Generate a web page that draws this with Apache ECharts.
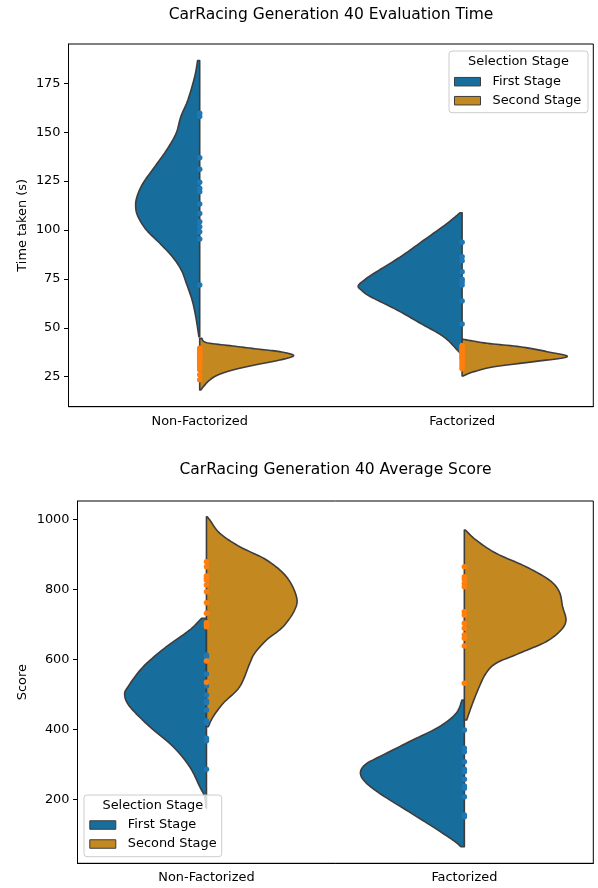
<!DOCTYPE html>
<html><head><meta charset="utf-8">
<script src="https://cdn.jsdelivr.net/npm/echarts@6/dist/echarts.min.js"></script>
<style>html,body{margin:0;padding:0;background:#fff}#c{width:598px;height:888px}</style>
</head><body><div id="c"></div>
<script>
// ---------------- data ----------------
const categories = ['Non-Factorized', 'Factorized'];
const stageNames = ['First Stage', 'Second Stage'];
const timeTicks = [25, 50, 75, 100, 125, 150, 175];
const scoreTicks = [200, 400, 600, 800, 1000];

// violin half profiles: [value, half-width as fraction of the category band], top -> bottom
const timeNFFirst = [[186.6,0.008],[178.4,0.019],[166.5,0.045],[157.9,0.072],[149.4,0.090],[140.9,0.126],[132.4,0.171],[123.9,0.216],[117.0,0.239],[111.9,0.244],[106.8,0.235],[100.0,0.203],[93.2,0.152],[86.3,0.104],[79.5,0.070],[72.8,0.051],[64.2,0.029],[55.7,0.015],[45.4,0.003]];
const timeNFSecond = [[44.6,0.008],[42.4,0.027],[40.7,0.126],[39.0,0.229],[37.8,0.305],[35.8,0.358],[33.5,0.305],[31.0,0.210],[28.4,0.126],[25.9,0.069],[23.3,0.038],[20.7,0.019],[18.2,0.004]];
const timeFFirst = [[108.8,0.008],[103.4,0.057],[94.9,0.145],[86.3,0.235],[77.9,0.335],[74.5,0.372],[71.4,0.396],[68.8,0.380],[65.9,0.349],[59.1,0.248],[52.3,0.159],[45.4,0.070],[38.7,0.019],[36.1,0.001]];
const timeFSecond = [[44.1,0.004],[42.1,0.095],[40.3,0.221],[37.8,0.324],[35.2,0.400],[32.7,0.274],[30.1,0.122],[27.6,0.046],[25.4,0.004]];

const scoreNFFirst = [[717.1,0.019],[683.7,0.065],[636.0,0.155],[578.9,0.245],[521.7,0.304],[498.0,0.317],[464.6,0.297],[407.4,0.220],[350.3,0.129],[293.1,0.065],[236.0,0.026],[207.4,0.007],[175.0,0.002]];
const scoreNFSecond = [[1007.4,0.003],[998.0,0.013],[960.0,0.052],[921.7,0.129],[883.7,0.233],[836.0,0.310],[778.9,0.349],[740.9,0.342],[693.1,0.297],[655.1,0.233],[617.1,0.187],[588.6,0.168],[521.7,0.129],[474.3,0.065],[436.0,0.026],[407.4,0.007]];
const scoreFFirst = [[483.7,0.009],[445.7,0.032],[407.4,0.097],[369.4,0.200],[321.7,0.329],[300.0,0.383],[276.0,0.403],[250.0,0.385],[217.1,0.329],[169.4,0.226],[121.7,0.123],[83.7,0.045],[64.6,0.013]];
const scoreFSecond = [[969.4,0.004],[940.9,0.045],[902.9,0.123],[864.6,0.239],[826.6,0.329],[793.1,0.368],[750.3,0.381],[712.3,0.394],[683.7,0.375],[650.3,0.317],[617.1,0.213],[588.6,0.123],[560.0,0.084],[521.7,0.058],[474.3,0.032],[426.6,0.009]];

// strip points
const timeNFFirstPts = [159.7,158.0,137.0,131.0,124.4,121.3,119.6,113.3,108.5,104.2,101.7,99.1,95.4,71.9];
const timeNFSecondPts = [39.5,38.8,38.0,37.5,37.0,36.3,35.5,35.0,34.2,33.5,32.8,32.0,31.0,30.0,28.5,26.0,23.5];
const timeFFirstPts = [93.7,86.3,84.3,78.7,74.8,73.6,71.9,63.7,51.9];
const timeFSecondPts = [41.0,40.0,39.0,38.5,38.0,37.0,36.5,36.0,35.0,34.5,34.0,33.0,32.0,31.0,30.0,29.0];
const scoreNFFirstPts = [612.3,607.4,558.0,523.7,498.0,480.9,476.0,455.1,424.6,418.9,374.3,367.4,285.7];
const scoreNFSecondPts = [878.9,864.6,838.0,831.4,826.6,812.3,793.1,761.7,731.4,704.6,698.0,693.1,595.1,534.3];
const scoreFFirstPts = [398.0,345.7,336.0,307.4,285.7,278.9,257.1,238.0,231.4,207.4,155.1,150.3];
const scoreFSecondPts = [864.6,836.0,828.6,817.1,807.4,736.0,726.6,702.9,688.6,669.4,660.0,638.0,531.4];

// ---------------- styling ----------------
const FONT = 'DejaVu Sans';
const FS = 12.9;
const violinColors = ['#176d9c', '#c38820'];
const pointColors = ['#1f77b4', '#ff7f0e'];
const EDGE = '#3d3d3d';

function catmull(pts, n) {
  const out = [];
  for (let i = 0; i < pts.length - 1; i++) {
    const p0 = pts[Math.max(0, i - 1)], p1 = pts[i], p2 = pts[i + 1], p3 = pts[Math.min(pts.length - 1, i + 2)];
    for (let k = 0; k < n; k++) {
      const t = k / n, t2 = t * t, t3 = t2 * t;
      const f = (a, b, c, d) => 0.5 * ((2 * b) + (-a + c) * t + (2 * a - 5 * b + 4 * c - d) * t2 + (-a + 3 * b - 3 * c + d) * t3);
      out.push([f(p0[0], p1[0], p2[0], p3[0]), f(p0[1], p1[1], p2[1], p3[1])]);
    }
  }
  out.push(pts[pts.length - 1]);
  return out;
}

function violinSeries(profile, cat, side, stage, gi) {
  return {
    type: 'custom', name: stageNames[stage], xAxisIndex: gi, yAxisIndex: gi, z: 2,
    data: profile.map(p => [cat, p[0], p[1]]),
    encode: { x: 0, y: 1 },
    renderItem: function (params, api) {
      if (params.dataIndex !== 0) return null;
      const band = api.size([1, 0])[0];
      const edge = profile.map(p => { const c = api.coord([cat, p[0]]); return [c[0] + side * p[1] * band, c[1]]; });
      const top = api.coord([cat, profile[0][0]]);
      const bot = api.coord([cat, profile[profile.length - 1][0]]);
      const poly = [top].concat(catmull(edge, 10)).concat([bot]);
      return { type: 'polygon', shape: { points: poly },
        style: { fill: violinColors[stage], stroke: EDGE, lineWidth: 1.6, lineJoin: 'round' } };
    }
  };
}
function stripSeries(vals, cat, stage, gi) {
  return { type: 'scatter', name: stageNames[stage] + ' points', xAxisIndex: gi, yAxisIndex: gi, z: 3,
    symbolSize: 5.5, itemStyle: { color: pointColors[stage], opacity: 1 },
    data: vals.map(v => [cat, v]) };
}

function xAxis(gi) {
  return { type: 'category', gridIndex: gi, data: categories, boundaryGap: true,
    axisLine: { lineStyle: { color: '#000', width: 1 } },
    axisTick: { alignWithLabel: true, length: 4.5, lineStyle: { color: '#000' } },
    axisLabel: { color: '#000', fontSize: FS, fontFamily: FONT, margin: 8 },
    splitLine: { show: false } };
}
function yAxis(gi, min, max, ticks, name, gap) {
  return { type: 'value', gridIndex: gi, min: min, max: max,
    name: name, nameLocation: 'middle', nameRotate: 90, nameGap: gap, nameMoveOverlap: false,
    nameTextStyle: { color: '#000', fontSize: FS, fontFamily: FONT },
    axisLine: { show: true, lineStyle: { color: '#000', width: 1 } },
    axisTick: { show: true, length: 4.5, lineStyle: { color: '#000' }, customValues: ticks },
    axisLabel: { color: '#000', fontSize: FS, fontFamily: FONT, margin: 8, customValues: ticks, formatter: v => String(v) },
    splitLine: { show: false } };
}
function legend(left, top) {
  return { orient: 'vertical', left: left, top: top, padding: 0, itemGap: 4, z: 10,
    itemWidth: 26, itemHeight: 8.5, icon: 'rect', selectedMode: false,
    textStyle: { color: '#000', fontSize: FS, fontFamily: FONT, lineHeight: 15, padding: [0, 0, 0, 7] },
    data: stageNames.map((n, i) => ({ name: n, itemStyle: { color: violinColors[i], borderColor: EDGE, borderWidth: 1 } })) };
}
function legendBox(x, y, w, h) {
  return [
    { type: 'rect', z: 9, shape: { x: x, y: y, width: w, height: h, r: 3 },
      style: { fill: 'rgba(255,255,255,0.8)', stroke: '#cccccc', lineWidth: 1 } },
    { type: 'text', z: 10, x: x + w / 2, y: y + 11, style: { text: 'Selection Stage', fill: '#000', font: FS + 'px "' + FONT + '"', align: 'center', verticalAlign: 'middle' } }
  ];
}

const chart = echarts.init(document.getElementById('c'), null, { renderer: 'canvas' });
chart.setOption({
  animation: false,
  backgroundColor: '#fff',
  grid: [
    { left: 68.5, top: 44, width: 524.8, height: 362.7, show: true, borderColor: '#000', borderWidth: 1, backgroundColor: 'transparent' },
    { left: 77.5, top: 501, width: 515.8, height: 362.3, show: true, borderColor: '#000', borderWidth: 1, backgroundColor: 'transparent' }
  ],
  xAxis: [xAxis(0), xAxis(1)],
  yAxis: [yAxis(0, 9.66, 195.1, timeTicks, 'Time taken (s)', 39), yAxis(1, 17.1, 1052.3, scoreTicks, 'Score', 48)],
  legend: [legend(454, 74.2), legend(89.3, 817.5)],
  graphic: [
    { type: 'text', x: 331, y: 14.5, style: { text: 'CarRacing Generation 40 Evaluation Time', fill: '#000', font: '15.5px "' + FONT + '"', align: 'center', verticalAlign: 'middle' } },
    { type: 'text', x: 335.5, y: 470, style: { text: 'CarRacing Generation 40 Average Score', fill: '#000', font: '15.5px "' + FONT + '"', align: 'center', verticalAlign: 'middle' } }
  ].concat(legendBox(449, 51, 139, 61.7)).concat(legendBox(84, 795, 137.7, 61.7)),
  series: [
    violinSeries(timeNFFirst, 0, -1, 0, 0), violinSeries(timeNFSecond, 0, 1, 1, 0),
    violinSeries(timeFFirst, 1, -1, 0, 0), violinSeries(timeFSecond, 1, 1, 1, 0),
    stripSeries(timeNFFirstPts, 0, 0, 0), stripSeries(timeNFSecondPts, 0, 1, 0),
    stripSeries(timeFFirstPts, 1, 0, 0), stripSeries(timeFSecondPts, 1, 1, 0),
    violinSeries(scoreNFFirst, 0, -1, 0, 1), violinSeries(scoreNFSecond, 0, 1, 1, 1),
    violinSeries(scoreFFirst, 1, -1, 0, 1), violinSeries(scoreFSecond, 1, 1, 1, 1),
    stripSeries(scoreNFFirstPts, 0, 0, 1), stripSeries(scoreNFSecondPts, 0, 1, 1),
    stripSeries(scoreFFirstPts, 1, 0, 1), stripSeries(scoreFSecondPts, 1, 1, 1)
  ]
});
</script></body></html>
